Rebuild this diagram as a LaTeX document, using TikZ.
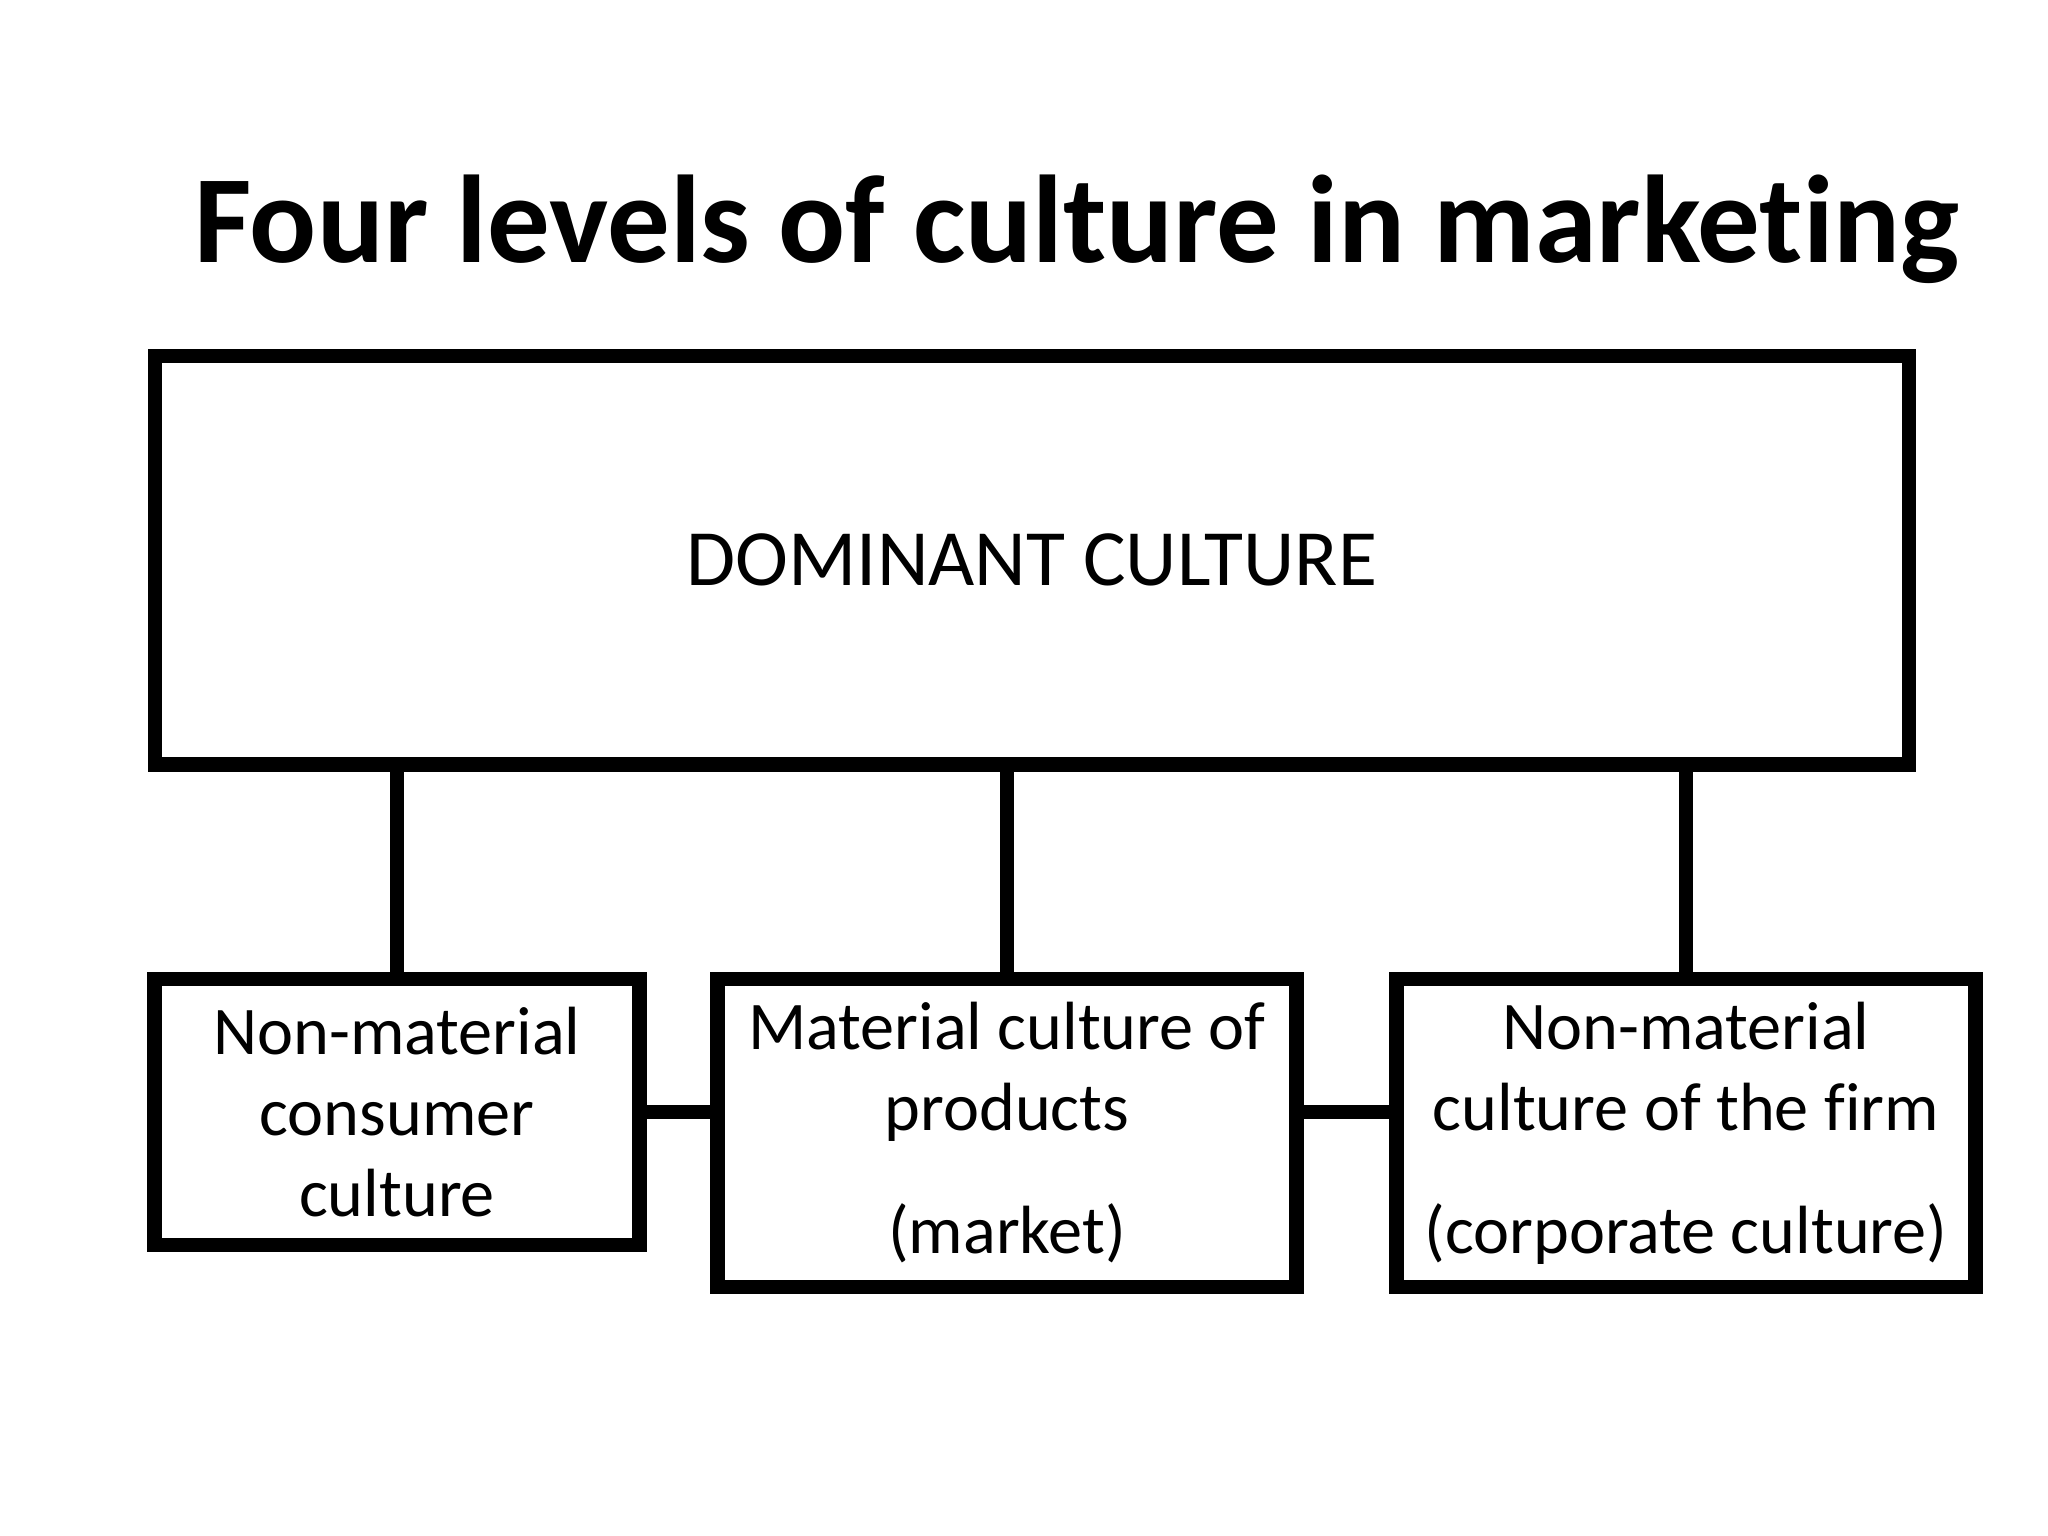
\documentclass[tikz,border=0pt]{standalone}
\usepackage{fontspec}
\setmainfont{Carlito}[Ligatures=NoCommon]

\begin{document}
\begin{tikzpicture}[x=0.01cm, y=-0.01cm, line width=4.2pt,
  box/.style={draw, inner sep=0pt, outer sep=0pt, align=center,
    font=\fontsize{19.4}{23}\selectfont},
  small/.style={box, minimum width=4.84cm, minimum height=2.66cm},
  wide/.style={box, minimum width=5.78cm, minimum height=3.08cm}]
  \useasboundingbox (0,0) rectangle (2048,1536);

  \node[anchor=base, font=\fontsize{35.5}{40}\selectfont\bfseries] (title) at (1077,262) {Four levels of culture in marketing};

  \node[box, minimum width=17.53cm, minimum height=4.08cm, font=\fontsize{22.7}{27}\selectfont] (dominant) at (1032,560) {DOMINANT CULTURE};

  \node[small] (consumer) at (397,1112) {Non-material\\consumer\\culture};
  \node[wide] (products) at (1007,1133) {Material culture of\\products\\[12pt](market)};
  \node[wide] (firm) at (1686,1133) {Non-material\\culture of the firm\\[12pt](corporate culture)};

  % links to the dominant culture
  \draw (consumer.north) to (consumer.north |- dominant.south);
  \draw (products.north) to (products.north |- dominant.south);
  \draw (firm.north) to (firm.north |- dominant.south);

  \draw (consumer.east) to (consumer.east -| products.west);
  \draw (products.east |- consumer.east) to (consumer.east -| firm.west);
\end{tikzpicture}
\end{document}
